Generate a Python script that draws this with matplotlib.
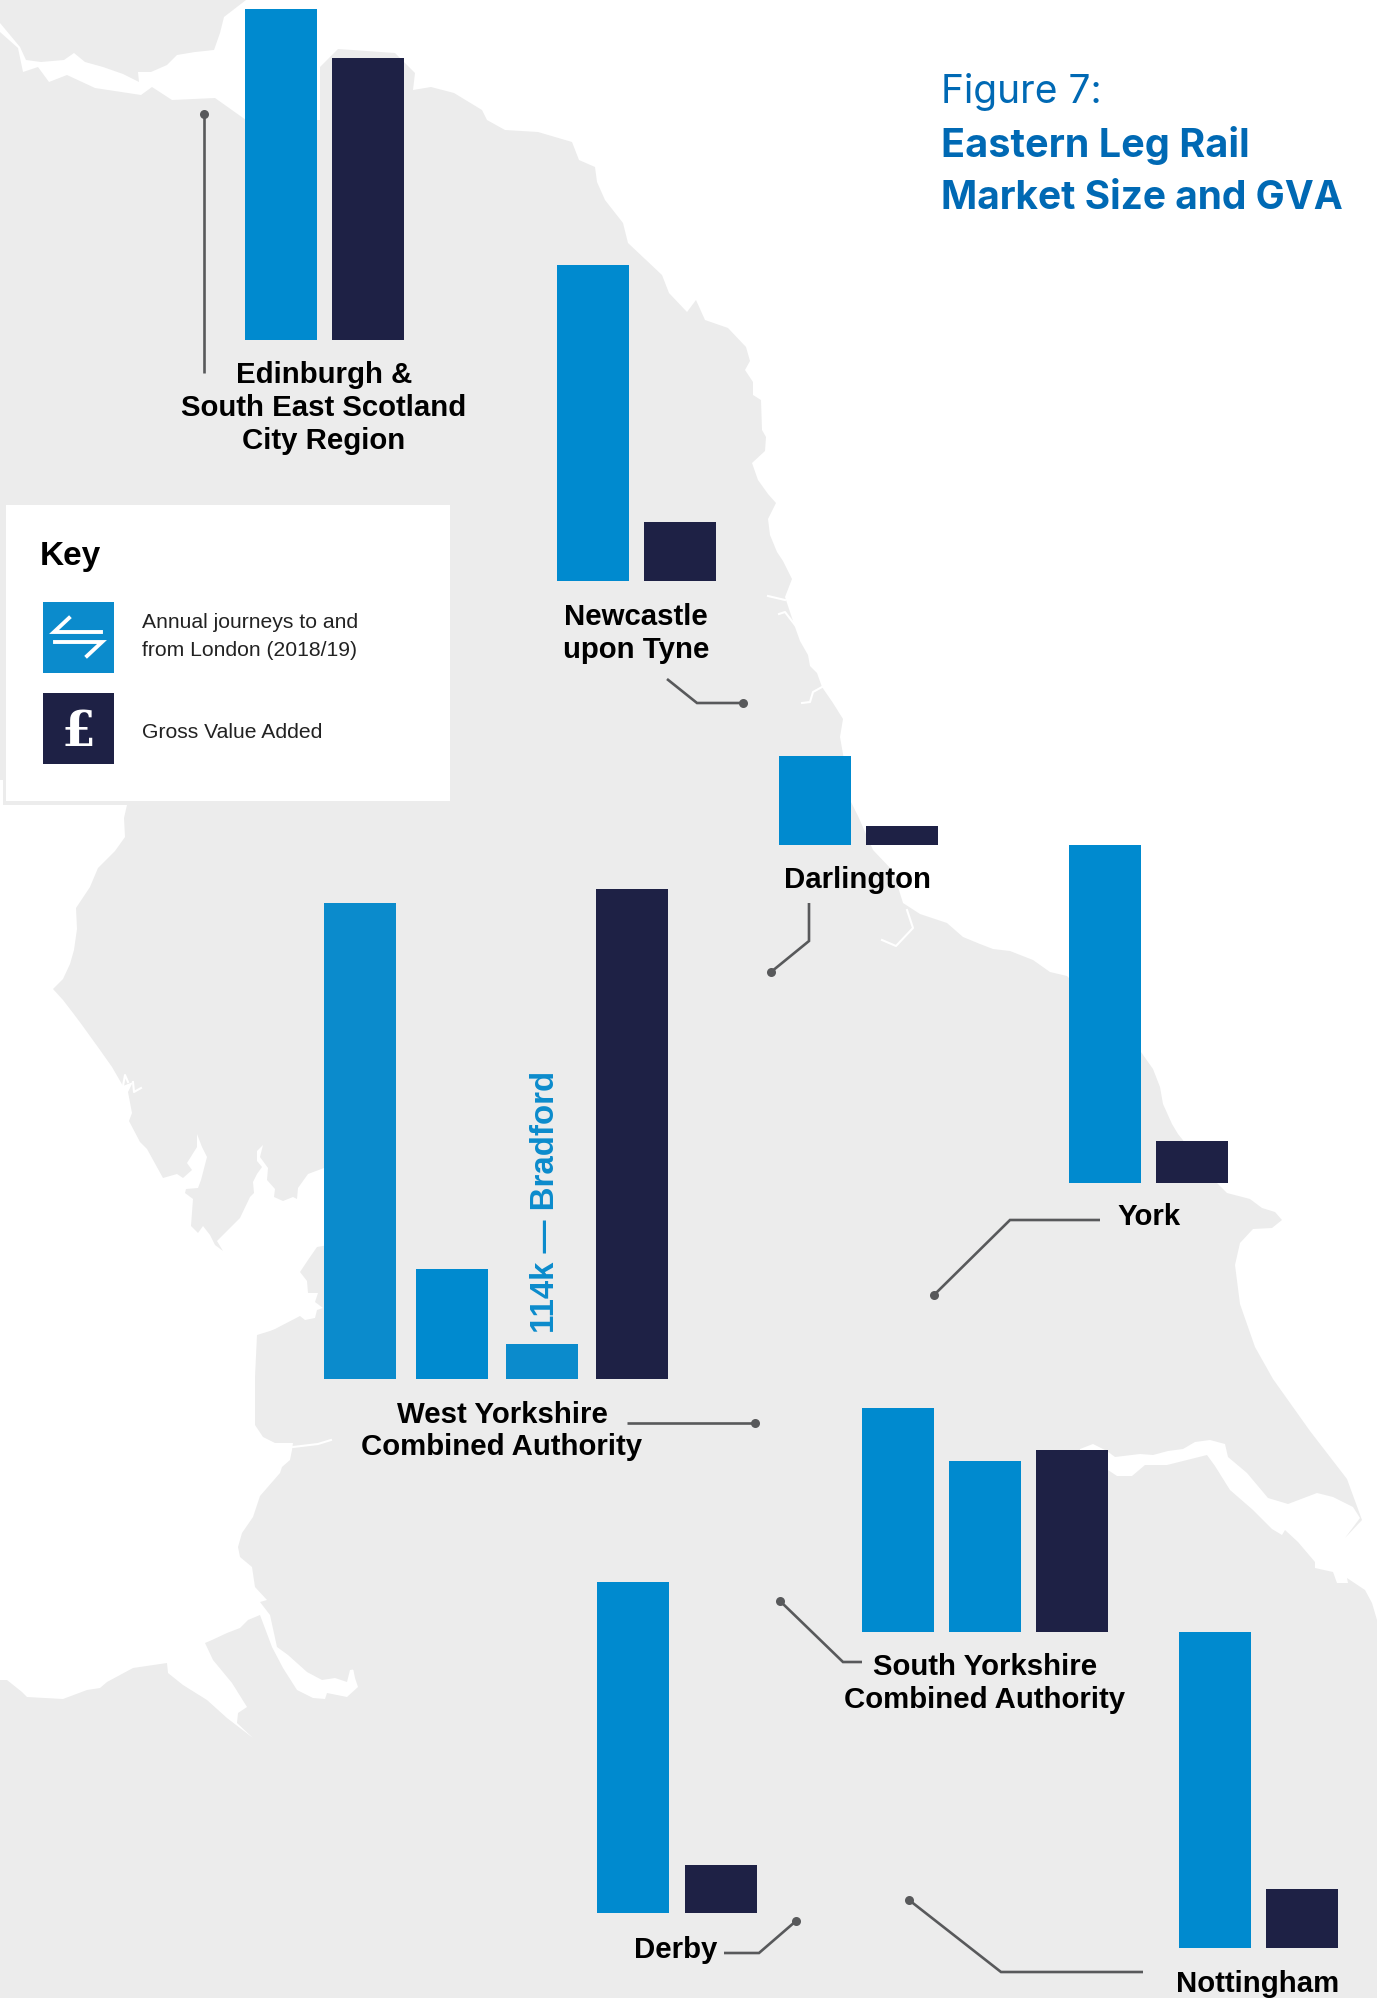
import matplotlib
matplotlib.use("Agg")
import matplotlib.pyplot as plt
from matplotlib.patches import Polygon, Rectangle

# bar heights, one list per region (journeys first, GVA last)
edinburgh = [331, 282]
newcastle = [316, 59]
darlington = [89, 19]
york = [338, 42]
west_yorkshire = [476, 110, 35, 490]
south_yorkshire = [224, 171, 182]
derby = [331, 48]
nottingham = [316, 59]

LAND = "#ececec"
BLUE = "#008acf"
BLUE2 = "#0b8bcc"
NAVY = "#1e2145"
LEADER = "#58595b"
TITLE = "#0069b4"
BAR_W = 72

# coastline
fife = [(0, 0), (246, 0), (224, 17), (220, 33), (214, 50), (195, 52), (177, 55), (167, 65),
        (151, 72), (138, 72), (139, 82), (123, 74), (103, 67), (85, 62), (74, 53), (64, 60),
        (41, 62), (26, 60), (20, 47), (0, 23)]

east_coast = [(0, 32), (18, 48), (23, 72), (38, 67), (49, 82), (67, 75), (95, 88), (141, 95),
              (152, 87), (172, 100), (215, 98), (246, 120), (320, 120), (320, 67), (338, 49),
              (395, 53), (415, 73), (413, 90), (431, 87), (454, 93), (482, 110), (487, 120),
              (505, 130), (538, 132), (572, 142), (579, 160), (595, 167), (597, 182), (605, 200),
              (623, 223), (628, 243), (662, 275), (669, 293), (687, 312), (696, 300), (705, 320),
              (728, 328), (746, 347), (750, 361), (745, 370), (753, 382), (753, 395), (761, 400),
              (762, 430), (766, 437), (765, 451), (752, 463), (758, 480), (768, 494), (776, 503),
              (768, 519), (770, 535), (777, 552), (783, 561), (792, 579), (785, 597), (795, 627),
              (800, 641), (808, 655), (810, 666), (817, 673), (822, 687), (833, 703), (843, 719),
              (840, 737), (843, 754), (851, 802), (858, 816), (873, 850), (893, 871), (903, 903),
              (920, 914), (947, 923), (963, 937), (980, 944), (993, 949), (1010, 951), (1033, 960),
              (1050, 972), (1067, 976), (1141, 1052), (1153, 1069), (1160, 1087), (1163, 1104),
              (1172, 1124), (1178, 1134), (1217, 1183), (1227, 1193), (1250, 1199), (1262, 1208),
              (1275, 1212), (1282, 1220), (1272, 1228), (1253, 1229), (1240, 1243), (1235, 1265),
              (1240, 1304), (1255, 1347), (1273, 1379), (1310, 1431), (1347, 1479), (1362, 1520),
              (1345, 1538), (1360, 1518), (1353, 1507), (1333, 1497), (1317, 1493), (1288, 1504),
              (1268, 1498), (1247, 1473), (1228, 1457), (1225, 1444), (1210, 1440), (1195, 1442),
              (1183, 1449), (1168, 1451), (1153, 1455), (1140, 1454), (1115, 1457), (1107, 1451),
              (1093, 1444), (1080, 1449), (1080, 1468), (1108, 1470), (1117, 1476), (1132, 1476),
              (1145, 1465), (1167, 1465), (1207, 1455), (1215, 1466), (1230, 1490), (1253, 1510),
              (1272, 1529), (1282, 1535), (1285, 1530), (1298, 1542), (1315, 1562), (1315, 1568),
              (1333, 1572), (1337, 1583), (1348, 1583), (1347, 1578), (1365, 1590), (1372, 1603),
              (1377, 1620), (1377, 1998), (0, 1998)]

west_coast = [(0, 1680), (7, 1680), (22, 1692), (27, 1697), (63, 1699), (87, 1690), (100, 1688),
              (107, 1682), (133, 1668), (167, 1663), (168, 1673), (183, 1685), (207, 1700),
              (227, 1718), (253, 1738), (237, 1723), (238, 1713), (247, 1707), (232, 1683),
              (213, 1660), (205, 1643), (212, 1640), (227, 1633), (240, 1628), (248, 1620),
              (260, 1615), (272, 1647), (283, 1668), (297, 1690), (313, 1698), (325, 1699),
              (327, 1693), (347, 1697), (358, 1687), (355, 1678), (353, 1668), (363, 1668),
              (350, 1670), (347, 1682), (335, 1678), (322, 1680), (307, 1672), (288, 1655),
              (277, 1647), (270, 1615), (260, 1602), (267, 1600), (255, 1587), (252, 1567),
              (240, 1557), (238, 1547), (242, 1533), (253, 1517), (260, 1496), (280, 1473),
              (282, 1467), (290, 1460), (292, 1450), (293, 1443), (275, 1443), (263, 1437),
              (255, 1425), (255, 1377), (257, 1335), (270, 1331), (275, 1329), (300, 1316),
              (305, 1320), (315, 1318), (317, 1310), (323, 1308), (315, 1302), (318, 1293),
              (308, 1293), (307, 1281), (300, 1272), (308, 1260), (317, 1247), (340, 1243),
              (340, 1168), (324, 1168), (308, 1174), (298, 1188), (297, 1199), (293, 1197),
              (283, 1201), (274, 1197), (275, 1189), (267, 1180), (268, 1168), (260, 1157),
              (263, 1145), (257, 1151), (257, 1161), (262, 1167), (257, 1174), (253, 1182),
              (254, 1193), (250, 1197), (240, 1218), (232, 1226), (217, 1241), (223, 1251),
              (215, 1245), (210, 1235), (203, 1226), (198, 1233), (191, 1226), (193, 1199),
              (185, 1193), (186, 1189), (198, 1188), (201, 1180), (207, 1157), (202, 1147),
              (197, 1134), (197, 1147), (187, 1163), (192, 1170), (183, 1178), (177, 1174),
              (163, 1178), (147, 1149), (140, 1142), (129, 1121), (132, 1113), (128, 1092),
              (133, 1082), (123, 1086), (112, 1067), (100, 1050), (82, 1025), (73, 1013),
              (63, 1000), (53, 989), (63, 979), (70, 964), (74, 950), (77, 929), (76, 908),
              (90, 887), (98, 868), (115, 851), (125, 837), (124, 818), (127, 805), (3, 805),
              (3, 780), (0, 780)]

rivers = [[(768, 596), (785, 600)],
          [(779, 614), (785, 612), (795, 625)],
          [(802, 703), (810, 702), (813, 692), (822, 687)],
          [(882, 940), (896, 946), (913, 928), (907, 910)],
          [(293, 1447), (318, 1444), (331, 1440)],
          [(123, 1086), (125, 1075), (128, 1082)],
          [(133, 1082), (134, 1092), (141, 1088)],
          [(1115, 1470), (1127, 1473)]]

fig = plt.figure(figsize=(13.77, 19.98), dpi=100)
ax = fig.add_axes([0, 0, 1, 1])
ax.set_xlim(0, 1377)
ax.set_ylim(1998, 0)
ax.axis("off")

# map
ax.add_patch(Polygon(fife, closed=True, fc=LAND, ec="none", zorder=1))
ax.add_patch(Polygon(east_coast + west_coast, closed=True, fc=LAND, ec="none", zorder=1))
for r in rivers:
    ax.plot([p[0] for p in r], [p[1] for p in r], color="white", lw=1.5, zorder=2)


def draw_bars(lefts, base, values, colors):
    # heights go upward on screen, the y axis is flipped
    ax.bar(lefts, [-v for v in values], width=BAR_W, bottom=base, align="edge",
           color=colors, linewidth=0, zorder=3)


draw_bars([245, 332], 340, edinburgh, [BLUE, NAVY])
draw_bars([557, 644], 581, newcastle, [BLUE, NAVY])
draw_bars([779, 866], 845, darlington, [BLUE, NAVY])
draw_bars([1069, 1156], 1183, york, [BLUE, NAVY])
draw_bars([324, 416, 506, 596], 1379, west_yorkshire, [BLUE2, BLUE, BLUE2, NAVY])
draw_bars([862, 949, 1036], 1632, south_yorkshire, [BLUE, BLUE, NAVY])
draw_bars([597, 685], 1913, derby, [BLUE, NAVY])
draw_bars([1179, 1266], 1948, nottingham, [BLUE, NAVY])


def leader(points):
    ax.plot([p[0] for p in points], [p[1] for p in points], color=LEADER, lw=1.9, zorder=4,
            solid_capstyle="butt", solid_joinstyle="miter")
    ax.plot(points[-1][0], points[-1][1], "o", color=LEADER, ms=6.5, mew=0, zorder=4)


leader([(204, 373), (204, 114)])
leader([(667, 679), (697, 703), (743, 703)])
leader([(809, 903), (809, 941), (771, 972)])
leader([(1100, 1220), (1010, 1220), (934, 1295)])
leader([(627, 1423), (755, 1423)])
leader([(862, 1662), (843, 1662), (780, 1601)])
leader([(724, 1953), (759, 1953), (796, 1921)])
leader([(1143, 1972), (1001, 1972), (909, 1900)])


def label(x, baseline, txt):
    ax.text(x, baseline, txt, family="Liberation Sans", weight="bold", fontsize=21.2,
            color="#000000", ha="center", va="baseline", zorder=5)


label(324, 383, "Edinburgh &")
label(324, 416, "South East Scotland")
label(324, 449, "City Region")
label(636, 625, "Newcastle")
label(636, 658, "upon Tyne")
label(858, 888, "Darlington")
label(1149, 1225, "York")
label(502, 1423, "West Yorkshire")
label(502, 1455, "Combined Authority")
label(985, 1675, "South Yorkshire")
label(985, 1708, "Combined Authority")
label(676, 1958, "Derby")
label(1258, 1992, "Nottingham")

ax.text(545, 1333, "114k \u2014 Bradford", family="Liberation Sans", weight="bold", fontsize=23.8,
        color=BLUE2, rotation=90, ha="center", va="bottom", zorder=5)

# title
ax.text(941, 103, "Figure 7:", family="Inter", weight="normal", fontsize=28, color=TITLE,
        va="baseline", zorder=5)
ax.text(941, 157, "Eastern Leg Rail", family="Inter", weight="bold", fontsize=28.5, color=TITLE,
        va="baseline", zorder=5)
ax.text(941, 209, "Market Size and GVA", family="Inter", weight="bold", fontsize=28, color=TITLE,
        va="baseline", zorder=5)

# key
ax.add_patch(Rectangle((6, 505), 444, 296, fc="white", ec="none", zorder=6))
ax.text(40, 565, "Key", family="Liberation Sans", weight="bold", fontsize=24, color="black",
        va="baseline", zorder=7)
ax.add_patch(Rectangle((43, 602), 71, 71, fc=BLUE2, ec="none", zorder=7))
ax.add_patch(Rectangle((43, 693), 71, 71, fc=NAVY, ec="none", zorder=7))
ax.plot([101, 54, 69], [632, 632, 618], color="white", lw=2.8, zorder=8, solid_joinstyle="miter")
ax.plot([55, 102, 87], [642, 642, 656], color="white", lw=2.8, zorder=8, solid_joinstyle="miter")
ax.text(78, 746, "\u00a3", family="DejaVu Serif", weight="bold", fontsize=35, color="white",
        ha="center", va="baseline", zorder=8)
for y, txt in [(628, "Annual journeys to and"), (656, "from London (2018/19)"),
               (738, "Gross Value Added")]:
    ax.text(142, y, txt, family="Liberation Sans", fontsize=15.2, color="#222222", va="baseline",
            zorder=7)

fig.savefig("out.png", dpi=100)
